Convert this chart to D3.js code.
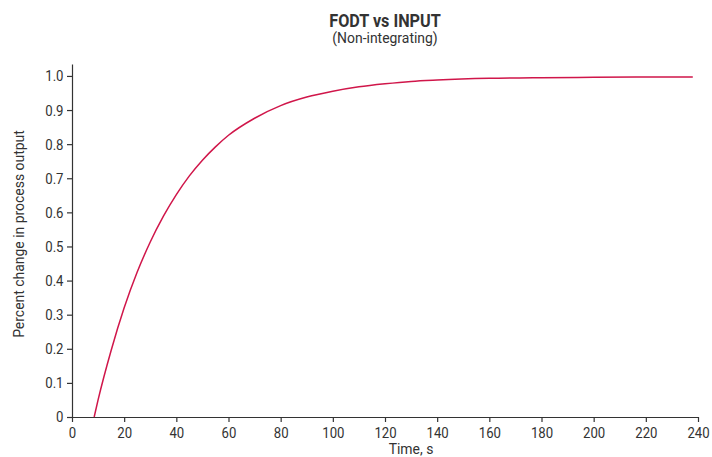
<!DOCTYPE html>
<html>
<head>
<meta charset="utf-8">
<script src="https://cdn.jsdelivr.net/npm/d3@7"></script>
<style>
  body { margin: 0; background: #fff; }
  svg text { font-family: Roboto, sans-serif; fill: #333; }
</style>
</head>
<body>
<svg id="chart" width="712" height="457"></svg>
<script>
let width = 712,
  height = 457;

let margin = { top: 64, left: 72, right: 14, bottom: 40 };
let squeeze = 0.85; // the reference uses a condensed face

// time (s) and response
let time = [8.5, 10, 15, 20, 25, 30, 35, 40, 45, 50, 55, 60, 70, 80, 90, 100, 110, 120, 130, 140, 160, 180, 200, 220, 238];
let response = [0, 0.05, 0.195, 0.32, 0.425, 0.513, 0.588, 0.652, 0.707, 0.753, 0.792, 0.826, 0.876, 0.913, 0.938, 0.955, 0.968, 0.977, 0.984, 0.988, 0.993, 0.995, 0.996, 0.997, 0.997];

let x_ticks = [0, 20, 40, 60, 80, 100, 120, 140, 160, 180, 200, 220, 240];
let y_ticks = [0, 0.1, 0.2, 0.3, 0.4, 0.5, 0.6, 0.7, 0.8, 0.9, 1.0];

let title = "FODT vs INPUT",
  subtitle = "(Non-integrating)",
  x_label = "Time, s",
  y_label = "Percent change in process output";

function make_scales() {
  return {
    x: d3.scaleLinear()
      .domain([0, 240])
      .range([margin.left, 698]),
    y: d3.scaleLinear()
      .domain([0, 1.035])
      .range([417, margin.top])
  }
}

function draw() {
  let svg = d3.select("#chart")
  let scales = make_scales()
  let pts = time.map((t, i) => ({ t: t, v: response[i] }))

  let x_axis = d3.axisBottom(scales.x)
    .tickValues(x_ticks)
    .tickSize(5)
    .tickSizeOuter(0)
  let y_axis = d3.axisLeft(scales.y)
    .tickValues(y_ticks)
    .tickFormat(d => d == 0 ? "0" : d3.format(".1f")(d))
    .tickSize(5)
    .tickSizeOuter(0)

  let gx = svg.append("g")
    .attr("transform", `translate(0,${scales.y(0)})`)
    .call(x_axis)
  let gy = svg.append("g")
    .attr("transform", `translate(${scales.x(0)},0)`)
    .call(y_axis)

  for (let g of [gx, gy]) {
    g.selectAll("path, line").attr("stroke", "#333").attr("stroke-width", 1.2)
    g.selectAll("text")
      .attr("font-size", 15.5)
      .attr("fill", "#333")
      .attr("transform", `scale(${squeeze},1)`)
      .style("font-family", "Roboto, sans-serif")
  }
  gx.selectAll("text").attr("dy", "0.71em").attr("y", 10)
  gy.selectAll("text").attr("x", -8.5 / squeeze)

  let line_gen = d3.line()
    .x(d => scales.x(d.t))
    .y(d => scales.y(d.v))
    .curve(d3.curveMonotoneX)

  svg.append("path")
    .datum(pts)
    .attr("d", line_gen)
    .attr("fill", "none")
    .attr("stroke", "#d0164a")
    .attr("stroke-width", 1.5)

  svg.append("text")
    .attr("transform", `translate(385,27) scale(0.9,1)`)
    .attr("text-anchor", "middle")
    .attr("font-size", 18)
    .attr("font-weight", "bold")
    .attr("fill", "#222")
    .text(title)

  svg.append("text")
    .attr("transform", `translate(385,43) scale(0.93,1)`)
    .attr("text-anchor", "middle")
    .attr("font-size", 15)
    .text(subtitle)

  svg.append("text")
    .attr("transform", `translate(411,454) scale(0.93,1)`)
    .attr("text-anchor", "middle")
    .attr("font-size", 15)
    .text(x_label)

  svg.append("text")
    .attr("transform", "translate(24,234) rotate(-90) scale(0.93,1)")
    .attr("text-anchor", "middle")
    .attr("font-size", 15)
    .text(y_label)
}

draw()
</script>
</body>
</html>
